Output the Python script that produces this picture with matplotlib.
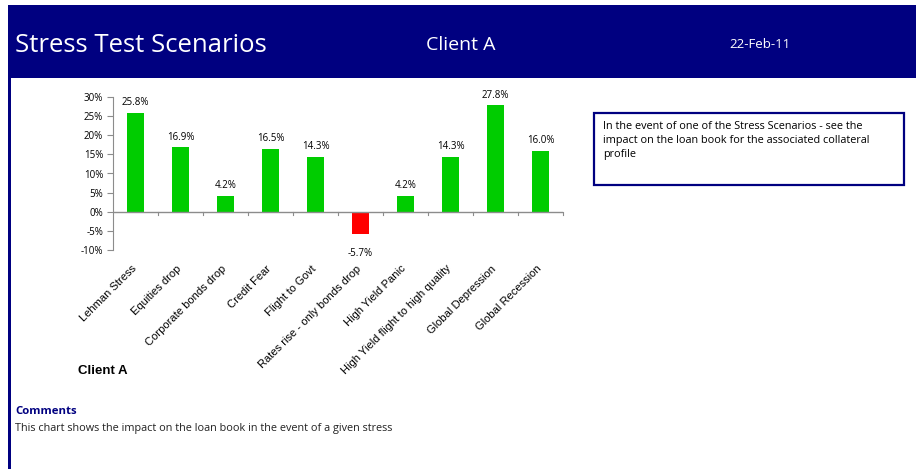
import numpy as np
import matplotlib.pyplot as plt
from matplotlib.patches import Rectangle
from matplotlib.ticker import FuncFormatter

escenarios = ["Lehman Stress", "Equities drop", "Corporate bonds drop", "Credit Fear",
              "Flight to Govt", "Rates rise - only bonds drop", "High Yield Panic",
              "High Yield flight to high quality", "Global Depression", "Global Recession"]
impacto = [25.8, 16.9, 4.2, 16.5, 14.3, -5.7, 4.2, 14.3, 27.8, 16.0]
etiquetas_y = [-10, -5, 0, 5, 10, 15, 20, 25, 30]

W, H = 916, 469
azul = "#000080"
gris = "#8c8c8c"

fig = plt.figure(figsize=(W / 100, H / 100), dpi=100)
fig.patch.set_facecolor("white")

# cabecera azul y borde izquierdo
fig.patches.append(Rectangle((9 / W, 1 - 78 / H), 1 - 9 / W, 73 / H,
                             transform=fig.transFigure, facecolor=azul, edgecolor="none"))
fig.patches.append(Rectangle((8 / W, 0), 3 / W, 1 - 5 / H,
                             transform=fig.transFigure, facecolor=azul, edgecolor="none"))

fig.text(15 / W, 1 - 45 / H, "Stress Test Scenarios", color="white", fontsize=18.5,
         family="Open Sans", va="center", ha="left")
fig.text(461 / W, 1 - 45 / H, "Client A", color="white", fontsize=14,
         family="Open Sans", va="center", ha="center")
fig.text(760 / W, 1 - 45 / H, "22-Feb-11", color="white", fontsize=9.5,
         family="Open Sans", va="center", ha="center")

# grafico de barras
ax = fig.add_axes([113 / W, 1 - 250 / H, 450 / W, 153 / H])
x = np.arange(len(escenarios))
colores = ["#00cc00" if v >= 0 else "#ff0000" for v in impacto]
ax.bar(x, impacto, width=0.38, color=colores)
ax.set_xlim(-0.5, len(escenarios) - 0.5)
ax.set_ylim(-10, 30)
ax.set_yticks(etiquetas_y)
ax.yaxis.set_major_formatter(FuncFormatter(lambda v, p: f"{v:.0f}%"))
ax.tick_params(axis="y", labelsize=7, length=4, color=gris, pad=3)
for t in ax.get_yticklabels():
    t.set_family("Open Sans")

for i, v in enumerate(impacto):
    if v >= 0:
        ax.text(i, v + 1.2, f"{v:.1f}%", ha="center", va="bottom", fontsize=7,
                family="Open Sans")
    else:
        ax.text(i, v - 3.8, f"{v:.1f}%", ha="center", va="top", fontsize=7,
                family="Open Sans")

for lado in ["top", "right", "bottom"]:
    ax.spines[lado].set_visible(False)
ax.spines["left"].set_color(gris)
ax.axhline(0, color=gris, lw=1)
ax.set_xticks([])
for xt in np.arange(0.5, len(escenarios), 1.0):
    ax.plot([xt, xt], [0, -0.8], color=gris, lw=0.8, clip_on=False)

for i, nombre in enumerate(escenarios):
    ax.text(i - 0.1, -13.5, nombre, rotation=45, ha="right", va="top",
            fontsize=8, family="Liberation Sans", rotation_mode="anchor")

fig.text(78 / W, 1 - 371 / H, "Client A", fontsize=9.5, fontweight="bold",
         family="Liberation Sans", va="center")

# cuadro de texto
fig.patches.append(Rectangle((594 / W, 1 - 185 / H), 310 / W, 72 / H,
                             transform=fig.transFigure, facecolor="white",
                             edgecolor=azul, lw=1.6))
fig.text(603 / W, 1 - 121 / H,
         "In the event of one of the Stress Scenarios - see the\n"
         "impact on the loan book for the associated collateral\nprofile",
         fontsize=7.8, family="Open Sans", va="top", ha="left", linespacing=1.4)

fig.text(15 / W, 1 - 411 / H, "Comments", fontsize=8.2, fontweight="bold",
         color=azul, family="Open Sans", va="center")
fig.text(15 / W, 1 - 428 / H,
         "This chart shows the impact on the loan book in the event of a given stress",
         fontsize=7.8, family="Open Sans", va="center", color="#222222")

fig.savefig("out.png", dpi=100)
